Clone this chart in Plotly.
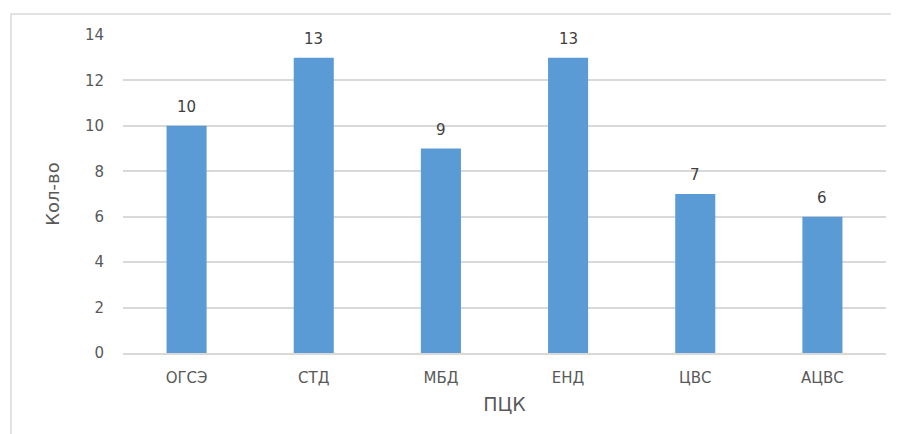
import plotly.graph_objects as go

categories = ["ОГСЭ", "СТД", "МБД", "ЕНД", "ЦВС", "АЦВС"]
values = [10, 13, 9, 13, 7, 6]
y_ticks = [0, 2, 4, 6, 8, 10, 12, 14]

# page body has an 8px offset; size the figure so it fills the 899x434 window
OFF = 8
W, H = 899 - OFF, 434 - OFF
L, T = 115, 27
pw, ph = 763, 318
R, B = W - L - pw, H - T - ph

FONT = "DejaVu Sans"
TXT = "#595959"

def px(x):
    return (x - L) / pw

def py(y):
    return (T + ph - y) / ph

fig = go.Figure(go.Bar(
    x=categories, y=values,
    marker=dict(color="#5B9BD5", line=dict(width=0)),
    hoverinfo="x+y",
))

for c, v in zip(categories, values):
    fig.add_annotation(
        x=c, y=v, text=str(v), showarrow=False, yanchor="bottom", yshift=8,
        font=dict(family=FONT, size=15, color="#404040"),
    )

fig.update_layout(
    width=W, height=H,
    margin=dict(l=L, r=R, t=T, b=B),
    paper_bgcolor="white", plot_bgcolor="white",
    bargap=0.685,
    showlegend=False,
    font=dict(family=FONT, color=TXT),
    xaxis=dict(
        showgrid=False, showline=True, linecolor="#d9d9d9", linewidth=1.5,
        ticks="", ticklabelstandoff=10, tickfont=dict(family=FONT, size=15, color=TXT),
        title=dict(text="ПЦК", font=dict(family=FONT, size=19, color=TXT), standoff=12),
    ),
    yaxis=dict(
        range=[0, 14], tickvals=y_ticks, showgrid=True, gridcolor="#d9d9d9", gridwidth=1.5,
        zeroline=False, showline=False, ticks="", ticklabelstandoff=18,
        tickfont=dict(family=FONT, size=15, color=TXT),
        title=dict(text="Кол-во", font=dict(family=FONT, size=18, color=TXT), standoff=20),
    ),
    shapes=[dict(
        type="rect", xref="paper", yref="paper",
        x0=px(3), x1=px(W + 30), y0=py(H + 30), y1=py(6),
        line=dict(color="#d9d9d9", width=1.5), fillcolor="rgba(0,0,0,0)", layer="below",
    )],
)

fig.write_html("out.html")
